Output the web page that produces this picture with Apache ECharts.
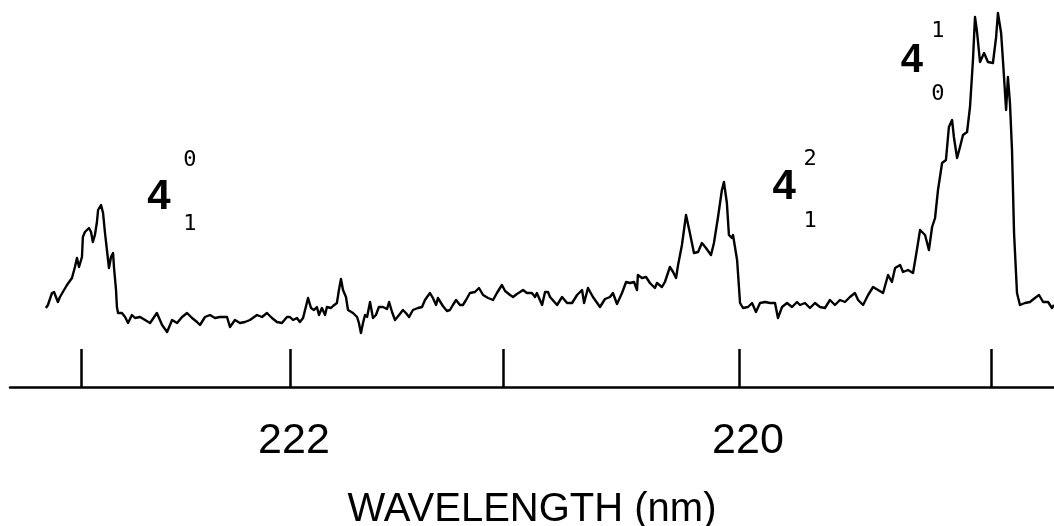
<!DOCTYPE html>
<html>
<head>
<meta charset="utf-8">
<script src="https://cdn.jsdelivr.net/npm/echarts@6/dist/echarts.min.js"></script>
<style>
html,body{margin:0;padding:0;background:#fff;}
#chart{width:1054px;height:526px;}
</style>
</head>
<body>
<div id="chart"></div>
<script>
// Wavelength (nm) of each sample
var wavelength = [223.093,223.084,223.066,223.057,223.040,223.031,223.000,222.978,222.965,222.956,222.947,222.934,222.930,222.921,222.903,222.894,222.886,222.877,222.868,222.863,222.850,222.841,222.833,222.824,222.815,222.806,222.797,222.793,222.784,222.780,222.775,222.758,222.744,222.731,222.714,222.700,222.678,222.656,222.634,222.604,222.581,222.559,222.537,222.515,222.493,222.471,222.449,222.427,222.414,222.392,222.370,222.348,222.326,222.295,222.282,222.260,222.238,222.216,222.194,222.163,222.141,222.119,222.097,222.075,222.053,222.031,222.018,222.004,221.987,221.974,221.960,221.952,221.938,221.925,221.912,221.899,221.890,221.877,221.863,221.855,221.837,221.828,221.811,221.802,221.793,221.784,221.771,221.762,221.740,221.722,221.714,221.705,221.696,221.687,221.678,221.665,221.652,221.639,221.626,221.608,221.590,221.581,221.568,221.555,221.537,221.520,221.507,221.493,221.476,221.454,221.436,221.423,221.401,221.388,221.374,221.366,221.344,221.326,221.313,221.300,221.286,221.269,221.256,221.242,221.225,221.203,221.185,221.167,221.145,221.123,221.106,221.084,221.070,221.048,221.035,221.018,221.004,220.991,220.974,220.952,220.938,220.930,220.907,220.894,220.881,220.872,220.841,220.819,220.797,220.775,220.753,220.731,220.722,220.705,220.683,220.652,220.630,220.608,220.595,220.577,220.555,220.537,220.520,220.502,220.489,220.485,220.467,220.449,220.432,220.410,220.401,220.379,220.366,220.344,220.330,220.317,220.308,220.291,220.273,220.256,220.238,220.220,220.203,220.185,220.163,220.150,220.132,220.115,220.106,220.093,220.084,220.071,220.066,220.048,220.035,220.022,220.000,219.982,219.965,219.947,219.925,219.903,219.881,219.868,219.850,219.828,219.806,219.784,219.771,219.749,219.727,219.705,219.683,219.661,219.639,219.617,219.595,219.573,219.551,219.529,219.515,219.493,219.471,219.449,219.427,219.405,219.383,219.366,219.352,219.330,219.317,219.295,219.273,219.256,219.242,219.220,219.203,219.189,219.176,219.163,219.145,219.128,219.115,219.101,219.093,219.079,219.066,219.053,219.035,219.022,219.009,219.000,218.991,218.978,218.960,218.943,218.921,218.907,218.899,218.885,218.877,218.863,218.855,218.846,218.837,218.828,218.815,218.802,218.780,218.758,218.736,218.718,218.700,218.678,218.661,218.652];
// Signal intensity (arbitrary units) at each sample
var intensity = [19.75,20.5,23.5,23.75,21.25,22.5,25.5,27.25,30,32.25,30,32.5,37.5,38.75,39.75,38.75,36.25,38,41.25,44.25,45.5,43.5,38.75,34.25,29.75,32.5,33.5,30,24.25,20,18.5,18.5,17.5,16,18,17.25,17.5,16.75,16,18.5,15.5,13.75,16.75,16,17.5,18.5,17.25,16.25,15.5,17.5,18,17.25,17.5,17.5,15,16.75,16,16.25,16.75,18,17.5,18.5,17.25,16.25,16,17.5,17.5,16.75,17.25,16.25,17.25,16.75,22.25,19.75,19.25,20,18,19.75,18,20,19.75,20.25,21,24.25,27,24.25,22.5,19.25,18.5,17.5,16,13.5,16,18,17.5,21.25,17.25,18,20,20,19.5,21.25,18.75,16.75,18,19.25,18.5,17.5,19.25,19.75,20,21.75,23.5,22.25,20.5,22.25,20.25,19,19.25,20.5,21.75,20.5,20.5,21.75,23.5,23.75,24.75,23,22.25,21.75,23.5,25.5,24,23,22.5,23.25,23.75,24.25,23.5,23.5,22.5,23.5,20.5,23.75,23.75,22.5,20.5,22.5,21,21,23,24.25,21,24.75,22.5,20,22,22.5,23.5,20.75,23.5,26.25,26,26.25,24.25,28,27.25,27.5,26,24.75,26,25,26.25,30,28.75,27.25,30.5,35.5,43,38.5,33.5,33.75,36,34.75,33,36,42.5,49.25,51.25,46,38,37.25,38,31.75,21,19.75,20,21,18.75,21,21.25,21,21,17.25,20,21,20,21.25,20.5,21,19.75,21,20,19.75,21.75,20.5,21.75,21.25,22.5,23.5,21.75,20.5,23,25,24.25,23.5,28,26.25,29.75,30.5,28.75,29.25,28.5,34.25,39.25,38,34.25,40,42.25,49.25,56,56.75,65,66.75,62.5,57.25,60,63,63.75,70,81.75,92.5,88.75,81.25,83.5,81.25,81,87.5,93.5,88.5,81.75,69.25,77.5,71,59.25,38.5,23.5,20.5,21,21.25,22.25,23,21.25,21.25,19.75,20.5];
// Tick marks on the axis (wavelength where each tick sits) and labelled values
var tickMarks = [222.938, 222.018, 221.079, 220.040, 218.930];
var tickLabels = [222, 220];
var axisTitle = 'WAVELENGTH (nm)';
// Band labels: main digit, superscript, subscript, anchor wavelength and intensity
var bandMain = ['4', '4', '4'];
var bandSup = ['0', '2', '1'];
var bandSub = ['1', '1', '0'];
var bandWl = [222.595, 219.841, 219.278];
var bandY = [47.5, 50, 81.5];

// layout of the super/subscripts relative to the main digit (pixels)
var bandLayout = [
  {size: 42, dx: 31, supDy: -37, subDy: 27},
  {size: 42, dx: 26, supDy: -28, subDy: 34},
  {size: 40, dx: 26, supDy: -30, subDy: 33}
];

var pairs = [];
var n = Math.min(wavelength.length, intensity.length);
for (var i = 0; i < n; i++) pairs.push([wavelength[i], intensity[i]]);

var chart = echarts.init(document.getElementById('chart'), null, {renderer: 'canvas'});
var xMin = 218.652, xMax = 223.251;

var option = {
  animation: false,
  backgroundColor: '#fff',
  grid: {left: 10, right: 0, top: 0, bottom: 139, containLabel: false, outerBoundsMode: 'none'},
  xAxis: {
    type: 'value',
    min: xMin, max: xMax,
    inverse: true,
    name: axisTitle,
    nameLocation: 'middle',
    nameGap: 103,
    nameTextStyle: {fontFamily: '"Liberation Sans", Arial, sans-serif', fontSize: 40, color: '#000', verticalAlign: 'top'},
    axisLine: {show: true, onZero: false, lineStyle: {color: '#000', width: 2.5}},
    axisTick: {show: true, inside: true, length: 38, customValues: tickMarks, lineStyle: {color: '#000', width: 2.5}},
    axisLabel: {show: true, customValues: tickLabels, margin: 33, fontFamily: '"Liberation Sans", Arial, sans-serif', fontSize: 43, color: '#000',
      formatter: function (v) { return String(Math.round(v)); }},
    splitLine: {show: false}
  },
  yAxis: {
    type: 'value', min: 0, max: 96.75, show: false,
    splitLine: {show: false}
  },
  series: [{
    type: 'line',
    data: pairs,
    showSymbol: false,
    symbol: 'none',
    smooth: false,
    lineStyle: {color: '#000', width: 2.4, join: 'round'},
    silent: true
  }]
};
chart.setOption(option);

// Band annotations placed through the chart's coordinate conversion
var g = [];
for (var k = 0; k < bandMain.length; k++) {
  var p = chart.convertToPixel({gridIndex: 0}, [bandWl[k], bandY[k]]);
  var L = bandLayout[k];
  g.push({type: 'text', x: p[0], y: p[1], style: {text: bandMain[k], fill: '#000', font: 'bold ' + L.size + 'px "Liberation Sans", Arial, sans-serif', textAlign: 'center', textVerticalAlign: 'middle'}});
  g.push({type: 'text', x: p[0] + L.dx, y: p[1] + L.supDy, style: {text: bandSup[k], fill: '#000', font: '22px "DejaVu Sans Mono", monospace', textAlign: 'center', textVerticalAlign: 'middle'}});
  g.push({type: 'text', x: p[0] + L.dx, y: p[1] + L.subDy, style: {text: bandSub[k], fill: '#000', font: '22px "DejaVu Sans Mono", monospace', textAlign: 'center', textVerticalAlign: 'middle'}});
}
chart.setOption({graphic: g});
</script>
</body>
</html>
